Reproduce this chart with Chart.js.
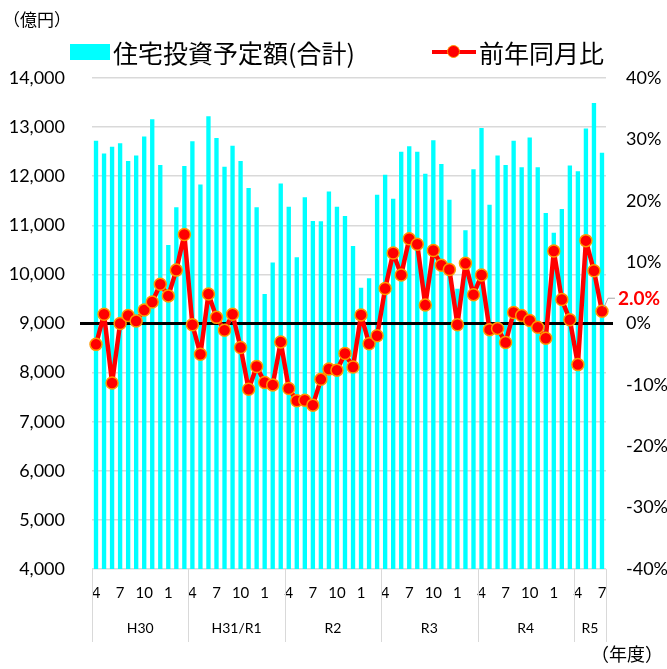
<!DOCTYPE html>
<html lang="ja">
<head>
<meta charset="utf-8">
<title>住宅投資予定額</title>
<script src="https://cdn.jsdelivr.net/npm/chart.js@4.4.0/dist/chart.umd.min.js"></script>
<style>
  body { margin: 0; background: #fff; }
  .wrap { position: relative; width: 667px; height: 669px; font-family: "Noto Sans CJK JP", sans-serif; color: #000; }
  canvas { position: absolute; left: 0; top: 0; }
  .unit { position: absolute; left: 3px; top: 6px; font-size: 17px; }
  .year { position: absolute; right: 4px; top: 640px; font-size: 18px; }
  .legend { position: absolute; top: 36px; left: 70px; display: flex; align-items: center; font-size: 25px; line-height: 32px; white-space: nowrap; }
  .legend .box { width: 40px; height: 16px; background: #00ffff; margin-right: 3px; }
  .legend .mark { position: relative; width: 44px; height: 20px; margin-left: 77px; margin-right: 3px; }
  .legend .mark::before { content: ''; position: absolute; left: 0; right: 0; top: 8px; height: 4px; background: #ff0000; }
  .legend .mark::after { content: ''; position: absolute; left: 15px; top: 3px; width: 11px; height: 11px; border-radius: 50%; background: #ff0000; border: 1.5px solid #ff9900; }
</style>
</head>
<body>
<div class="wrap">
  <canvas id="investChart" width="667" height="669"></canvas>
  <div class="unit">（億円）</div>
  <div class="legend">
    <span class="box"></span><span>住宅投資予定額(合計)</span>
    <span class="mark"></span><span>前年同月比</span>
  </div>
  <div class="year">（年度）</div>
</div>
<script>
// fiscal years and how many months of each are shown
const fiscalYears = ['H30', 'H31/R1', 'R2', 'R3', 'R4', 'R5'];
const monthsShown = [12, 12, 12, 12, 12, 4];
const fiscalMonths = [4, 5, 6, 7, 8, 9, 10, 11, 12, 1, 2, 3];
const labeledMonths = [4, 7, 10, 1];

// 住宅投資予定額(合計), 億円
const investAmount = [
  12720, 12460, 12600, 12670, 12310, 12420, 12810, 13160, 12230, 10600, 11370, 12210,
  12710, 11830, 13220, 12780, 12190, 12620, 12310, 11760, 11370, 9600, 10240, 11850,
  11380, 10350, 11570, 11090, 11080, 11690, 11380, 11190, 10580, 9730, 9920, 11620,
  12030, 11540, 12500, 12610, 12500, 12050, 12730, 12250, 11520, 9710, 10900, 12140,
  12980, 11420, 12420, 12230, 12720, 12180, 12790, 12180, 11250, 10850, 11330, 12220,
  12100, 12970, 13490, 12480
];

// 前年同月比, %
const yoyChange = [
  -3.4, 1.5, -9.7, 0.0, 1.3, 0.4, 2.2, 3.5, 6.4, 4.5, 8.7, 14.5,
  -0.2, -5.0, 4.8, 1.0, -1.1, 1.5, -3.9, -10.7, -7.0, -9.6, -10.0, -3.0,
  -10.6, -12.6, -12.5, -13.3, -9.1, -7.4, -7.6, -4.9, -7.1, 1.4, -3.3, -2.0,
  5.7, 11.5, 7.9, 13.8, 12.9, 3.0, 11.9, 9.5, 8.8, -0.2, 9.8, 4.7,
  7.9, -1.0, -0.8, -3.1, 1.8, 1.3, 0.5, -0.6, -2.4, 11.8, 3.9, 0.6,
  -6.7, 13.5, 8.6, 2.0
];

const categories = [];
fiscalYears.forEach((fy, i) => {
  fiscalMonths.slice(0, monthsShown[i]).forEach(m => categories.push(String(m)));
});

const numFont = 'Lato, "Noto Sans CJK JP", sans-serif';

// black 0% line, group separators, fiscal year labels and last value label
const decorations = {
  id: 'decorations',
  afterDatasetDraw(chart, args) {
    if (args.index !== 0) return;
    const { ctx, chartArea, scales } = chart;
    const y = scales.y1.getPixelForValue(0);
    ctx.save();
    ctx.strokeStyle = '#000';
    ctx.lineWidth = 3;
    ctx.beginPath();
    ctx.moveTo(chartArea.left - 12, y);
    ctx.lineTo(chartArea.right + 7, y);
    ctx.stroke();
    ctx.restore();
  },
  afterDraw(chart) {
    const { ctx, chartArea, scales } = chart;
    const x = scales.x;
    const half = (x.getPixelForValue(1) - x.getPixelForValue(0)) / 2;
    ctx.save();
    ctx.strokeStyle = '#d9d9d9';
    ctx.lineWidth = 1;
    ctx.fillStyle = '#000';
    ctx.font = '14px ' + numFont;
    ctx.textAlign = 'center';
    ctx.textBaseline = 'middle';
    let start = 0;
    fiscalYears.forEach((fy, i) => {
      const end = start + monthsShown[i] - 1;
      const left = x.getPixelForValue(start) - half;
      const right = x.getPixelForValue(end) + half;
      [left, right].forEach(px => {
        ctx.beginPath();
        ctx.moveTo(Math.round(px) + 0.5, chartArea.bottom);
        ctx.lineTo(Math.round(px) + 0.5, chartArea.bottom + 73);
        ctx.stroke();
      });
      ctx.fillText(fy, (left + right) / 2, chartArea.bottom + 59);
      start = end + 1;
    });

    // label on the last point
    const meta = chart.getDatasetMeta(1);
    const pt = meta.data[meta.data.length - 1];
    const last = yoyChange[yoyChange.length - 1];
    ctx.strokeStyle = '#a6a6a6';
    ctx.lineWidth = 1;
    ctx.beginPath();
    ctx.moveTo(pt.x + 2, pt.y - 4);
    ctx.lineTo(pt.x + 6, pt.y - 13);
    ctx.lineTo(pt.x + 13, pt.y - 13);
    ctx.stroke();
    ctx.fillStyle = '#ff0000';
    ctx.font = 'bold 19px ' + numFont;
    ctx.textAlign = 'left';
    ctx.fillText(last.toFixed(1) + '%', pt.x + 16, pt.y - 12);
    ctx.restore();
  }
};

new Chart(document.getElementById('investChart'), {
  type: 'bar',
  data: {
    labels: categories,
    datasets: [
      {
        type: 'bar',
        label: '住宅投資予定額(合計)',
        data: investAmount,
        yAxisID: 'y',
        backgroundColor: '#00ffff',
        categoryPercentage: 1,
        barPercentage: 0.54,
        order: 1
      },
      {
        type: 'line',
        label: '前年同月比',
        data: yoyChange,
        yAxisID: 'y1',
        borderColor: '#ff0000',
        borderWidth: 4.5,
        borderJoinStyle: 'round',
        borderCapStyle: 'round',
        pointRadius: 6,
        pointBackgroundColor: '#ff0000',
        pointBorderColor: '#ff9900',
        pointBorderWidth: 1.5,
        tension: 0,
        order: 0
      }
    ]
  },
  options: {
    responsive: false,
    devicePixelRatio: 1,
    animation: false,
    layout: { padding: { top: 78, left: 0, right: 0, bottom: 0 } },
    plugins: {
      legend: { display: false },
      tooltip: { enabled: false }
    },
    scales: {
      x: {
        grid: { display: false, drawTicks: false },
        border: { display: false },
        ticks: {
          autoSkip: false,
          maxRotation: 0,
          padding: 15,
          color: '#000',
          font: { family: numFont, size: 15 },
          callback(value) {
            const m = Number(this.getLabelForValue(value));
            return labeledMonths.includes(m) ? String(m) : '';
          }
        },
        afterFit(scale) { scale.height = 100; }
      },
      y: {
        position: 'left',
        min: 4000,
        max: 14000,
        grid: { color: '#d9d9d9', lineWidth: 1.5, drawTicks: false },
        border: { display: false },
        ticks: {
          stepSize: 1000,
          padding: 27,
          color: '#000',
          font: { family: numFont, size: 18 },
          callback: v => v.toLocaleString('en-US')
        },
        afterFit(scale) { scale.width = 92; }
      },
      y1: {
        position: 'right',
        min: -40,
        max: 40,
        grid: { display: false, drawTicks: false },
        border: { display: false },
        ticks: {
          stepSize: 10,
          padding: 20,
          color: '#000',
          font: { family: numFont, size: 18 },
          callback: v => v + '%'
        },
        afterFit(scale) { scale.width = 61; }
      }
    }
  },
  plugins: [decorations]
});
</script>
</body>
</html>
